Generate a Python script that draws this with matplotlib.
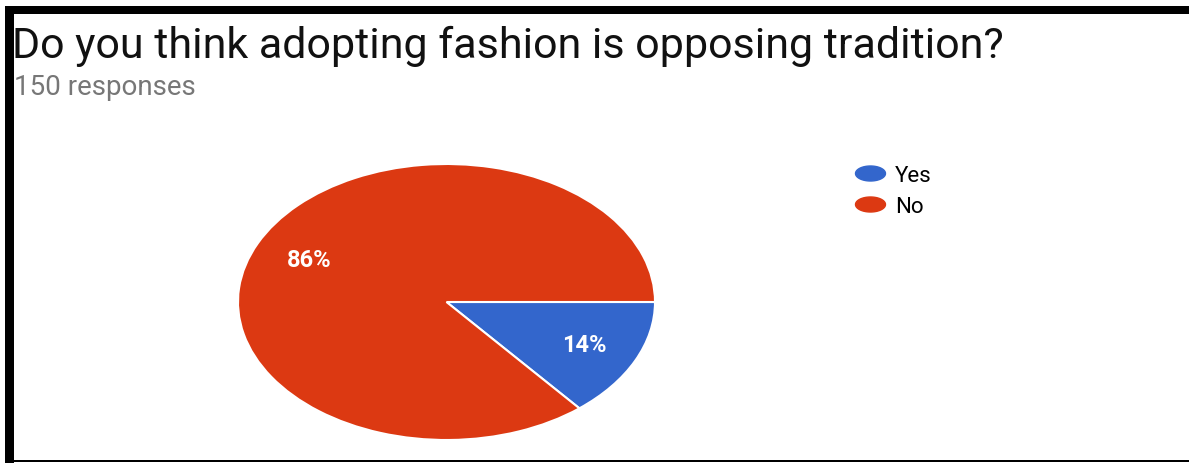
import matplotlib
matplotlib.use('Agg')
import matplotlib.pyplot as plt
import numpy as np
from matplotlib.path import Path
from matplotlib.lines import Line2D
from matplotlib.patches import Rectangle

plt.rcParams['font.family'] = ['Roboto', 'DejaVu Sans']

# survey results
labels = ['Yes', 'No']
shares = [14, 86]
colors = ['#3366CC', '#DC3912']
title = 'Do you think adopting fashion is opposing tradition?'
subtitle = '150 responses'

W, H = 1189, 464
fig = plt.figure(figsize=(W / 100, H / 100), dpi=100)


def fx(x):
    return x / W


def fy(y):
    return 1 - y / H


# pie is drawn stretched sideways, so the axes box sets the ellipse
ax = fig.add_axes([fx(238), fy(441), fx(655) - fx(238), fy(165) - fy(441)])
wedges, _, pcts = ax.pie(shares, colors=colors, startangle=0, counterclock=False,
                         autopct='%.0f%%', pctdistance=0.73,
                         wedgeprops=dict(edgecolor='white', linewidth=1.5),
                         textprops=dict(color='white', fontsize=17, fontweight='bold'))
ax.set_aspect('auto')
ax.set_xlim(-1, 1)
ax.set_ylim(-1, 1)

fig.text(fx(12), fy(58), title, fontsize=31, color='#111111', va='baseline', ha='left')
fig.text(fx(14), fy(95), subtitle, fontsize=20, color='#777777', va='baseline', ha='left')

# wide oval legend marker
t = np.linspace(0, 2 * np.pi, 60)
oval = Path(np.column_stack([np.cos(t), 0.5 * np.sin(t)]))
handles = [Line2D([], [], linestyle='none', marker=oval, markersize=21.6,
                  markerfacecolor=c, markeredgecolor=c) for c in colors]
fig.legend(handles, labels, loc='upper left', bbox_to_anchor=(fx(854), fy(166)),
           frameon=False, fontsize=16, handlelength=1.4, handletextpad=0.43,
           labelspacing=0.45, borderaxespad=0, borderpad=0)

# black frame around the panel
frame = [(5, 7, W - 5, 8), (5, 7, 9, H - 7), (5, 461, W - 5, 2)]
for x, y, w, h in frame:
    fig.add_artist(Rectangle((fx(x), fy(y + h)), w / W, h / H, transform=fig.transFigure,
                             facecolor='black', edgecolor='none'))

fig.savefig('out.png', dpi=100)
